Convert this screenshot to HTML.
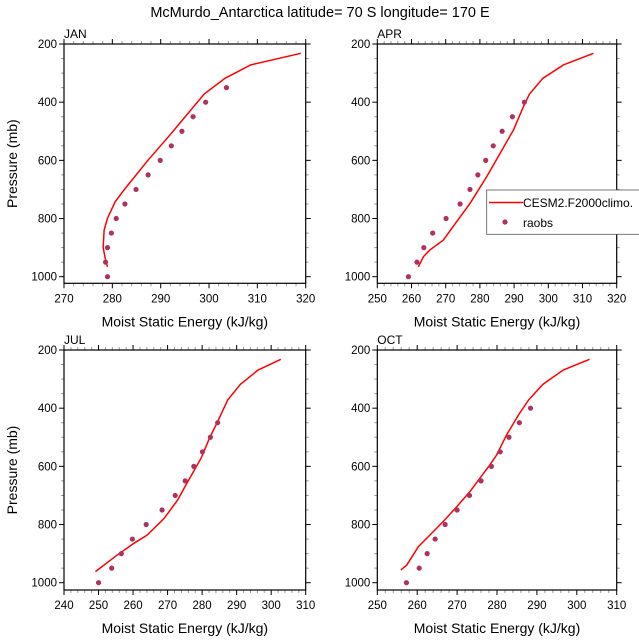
<!DOCTYPE html>
<html><head><meta charset="utf-8"><style>
html,body{margin:0;padding:0;background:#fff}
svg text{font-family:"Liberation Sans",Arial,sans-serif;fill:#000}
</style></head><body>
<svg id="c" width="639" height="639" xmlns="http://www.w3.org/2000/svg">
<text x="320" y="17" font-size="14.5" text-anchor="middle">McMurdo_Antarctica  latitude= 70 S longitude= 170 E</text>
</svg>
<script>
const panelNames = ["JAN","APR","JUL","OCT"];
const janModelX = [319,308.6,303.3,299,291.9,287.4,282.5,280.6,279.0,278.3,278.1,278.6,279.0];
const janModelP = [232,272,318,372,513,599,700,742,799,840,900,943,966];
const janObsX = [303.6,299.3,296.7,294.4,292.2,289.9,287.4,284.9,282.6,280.8,279.8,279.0,278.6,279.0];
const janObsP = [350,400,450,500,550,600,650,700,750,800,850,900,950,1000];
const aprModelX = [313.2,304.4,298.4,294.5,292.7,289.8,285.9,282.0,277.1,273.2,269.3,265.4,263.5,262];
const aprModelP = [232,272,318,372,416,496,576,656,748,811,874,908,931,966];
const aprObsX = [293.0,289.5,286.5,283.9,281.7,279.4,277.1,274.2,270.1,266.2,263.6,261.6,259.1];
const aprObsP = [400,450,500,550,600,650,700,750,800,850,900,950,1000];
const julModelX = [302.8,296.2,291.1,287.4,284.5,282.1,279.7,277.5,275.3,272.9,269.0,264.1,260.2,255.4,249.1];
const julModelP = [232,269,318,372,446,504,572,618,664,716,779,836,865,905,962];
const julObsX = [284.5,282.4,280.1,277.6,275.1,272.2,268.4,263.8,259.8,256.6,253.8,250.0];
const julObsP = [450,500,550,600,650,700,750,800,850,900,950,1000];
const octModelX = [303.2,296.6,291.5,287.9,285.4,282.4,279.9,278.2,275.7,273.2,269.9,266.5,263.2,260.3,257.4,255.9];
const octModelP = [232,269,318,372,423,492,561,595,641,687,739,790,836,876,939,956];
const octObsX = [288.4,285.6,283.0,280.8,278.6,276.0,273.1,270.0,267.0,264.5,262.5,260.5,257.3];
const octObsP = [400,450,500,550,600,650,700,750,800,850,900,950,1000];
const xRanges = [[270,320],[250,320],[240,310],[250,310]];
const xTicks = [[270,280,290,300,310,320],[250,260,270,280,290,300,310,320],[240,250,260,270,280,290,300,310],[250,260,270,280,290,300,310]];
const yTicks = [200,400,600,800,1000];

const NS="http://www.w3.org/2000/svg";
const svg=document.getElementById('c');
function el(t,a,p){const e=document.createElementNS(NS,t);for(const k in a)e.setAttribute(k,a[k]);(p||svg).appendChild(e);return e;}
const frames=[[64,305.7,44,283.3],[377.3,616.7,44,283.3],[64,305.7,350,590],[377.3,616.7,350,590]];
const models=[[janModelX,janModelP],[aprModelX,aprModelP],[julModelX,julModelP],[octModelX,octModelP]];
const obs=[[janObsX,janObsP],[aprObsX,aprObsP],[julObsX,julObsP],[octObsX,octObsP]];
frames.forEach((f,i)=>{
  const [x0,x1,y0,y1]=f;const [a,b]=xRanges[i];
  const g=el('g',{});
  
  
  const X=v=>x0+(v-a)/(b-a)*(x1-x0);
  const pB=200+(y1-y0)/((i<2?276.7:582.7)-y0)*800;
  const Y=p=>y0+(p-200)/(pB-200)*(y1-y0);
  // minor x ticks
  for(let v=a;v<=b;v+=2){const x=X(v);const maj=(v%10===0);const L=maj?5:3;const c=maj?'#000':'#999';
    el('line',{x1:x,x2:x,y1:y1,y2:y1+L,stroke:c,'stroke-width':1},g);
    el('line',{x1:x,x2:x,y1:y0,y2:y0-L,stroke:c,'stroke-width':1},g);}
  for(let p=200;p<=1000;p+=50){const y=Y(p);const maj=(p%200===0);const L=maj?5:3;const c=maj?'#000':'#999';
    el('line',{x1:x0,x2:x0-L,y1:y,y2:y,stroke:c,'stroke-width':1},g);
    el('line',{x1:x1,x2:x1+L,y1:y,y2:y,stroke:c,'stroke-width':1},g);}
  const fr=el('rect',{x:x0,y:y0,width:x1-x0,height:y1-y0,fill:'none',stroke:'#000','stroke-width':1.2},g);
  
  
  xTicks[i].forEach(v=>{const t=el('text',{x:X(v),y:y1+19,'font-size':11.5,'text-anchor':'middle'},g);t.textContent=v;
    
    });
  yTicks.forEach(p=>{const t=el('text',{x:x0-7,y:Y(p)+4,'font-size':11.5,'text-anchor':'end'},g);t.textContent=p;
    
    });
  const lt=el('text',{x:x0,y:y0-6,'font-size':12},g);lt.textContent=panelNames[i];
  
  
  const xt=el('text',{x:(x0+x1)/2,y:y1+43,'font-size':14,'text-anchor':'middle'},g);xt.textContent='Moist Static Energy (kJ/kg)';
  
  
  if(i%2===0){const yt=el('text',{x:0,y:0,'font-size':14,'text-anchor':'middle',transform:`translate(17,${(y0+y1)/2}) rotate(-90)`},g);yt.textContent='Pressure (mb)';
    
    }
  const [mx,mp]=models[i];
  const ln=el('polyline',{points:mx.map((v,k)=>X(v)+','+Y(mp[k])).join(' '),fill:'none',stroke:'#ff0000','stroke-width':1.5},g);
  
  
  const [ox,op]=obs[i];
  ox.forEach((v,k)=>{const d=el('circle',{cx:X(v),cy:Y(op[k]),r:2.6,fill:'#b03060'},g);
    
    });
});
// legend
const lg=el('g',{});


el('rect',{x:486.7,y:190,width:160,height:44.3,fill:'#fff',stroke:'#555','stroke-width':0.8},lg);
const l1=el('line',{x1:489,x2:523,y1:202.5,y2:202.5,stroke:'#ff0000','stroke-width':1.5},lg);


const t1=el('text',{x:523,y:207,'font-size':12},lg);t1.textContent='CESM2.F2000climo.';


const c2=el('circle',{cx:505,cy:222,r:2.6,fill:'#b03060'},lg);


const t2=el('text',{x:523,y:227,'font-size':12},lg);t2.textContent='raobs';


</script>
</body></html>
